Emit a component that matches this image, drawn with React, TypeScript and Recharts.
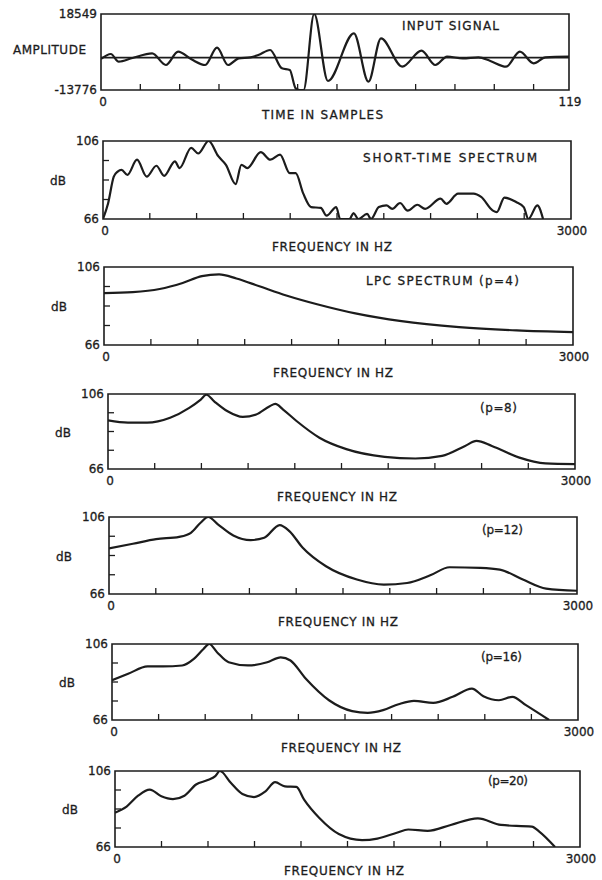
import React from 'react';
import { LineChart, Line, XAxis, YAxis, ReferenceArea, ReferenceLine } from 'recharts';

const FONT = '"DejaVu Sans", Verdana, sans-serif';
const INK = '#1c1c1c';

// input signal: sample index / amplitude at the turning points of the trace
const sigN = [0, 2.5, 4.5, 8, 13, 16.5, 19.6, 23, 26.5, 29.5, 32.3, 35, 38, 40, 43, 46, 48, 49.5, 50.5, 51.5, 54.2, 57.7, 64.3, 68, 71.2, 76.6, 81.5, 85, 88, 92, 96, 99, 103, 106.5, 110, 113, 119];
const sigAmp = [-590, 1530, -1720, -170, 1820, -3140, 2530, -730, -3140, 4230, -3140, -300, 120, 1100, 3240, -4560, -5270, -13070, -13776, -13776, 18549, -9950, 10330, -10230, 8200, -3850, 2950, -3140, 400, -300, 120, -1440, -3850, 2530, -2430, 120, 400];
const timeTicks = [0, 10, 20, 30, 40, 50, 60, 70, 80, 90, 100, 110, 119];
const ampTicks = [-13776, 18549];

const freqTicks = [0, 300, 600, 900, 1200, 1500, 1800, 2100, 2400, 2700, 3000];
const dbTicks = [66, 76, 86, 96, 106];

// short-time spectrum
const stFreq = [0, 32, 69, 94, 119, 156, 218, 280, 342, 392, 461, 491, 565, 610, 677, 739, 788, 850, 887, 925, 1011, 1073, 1135, 1197, 1235, 1284, 1334, 1396, 1433, 1495, 1520, 1580, 1606, 1636, 1693, 1718, 1768, 1817, 1854, 1904, 1953, 2015, 2065, 2164, 2201, 2276, 2375, 2424, 2499, 2524, 2573, 2648, 2697, 2727, 2784, 2821];
const stDb = [66, 73.8, 87.7, 90.3, 91.2, 88.6, 96.4, 87.7, 93.3, 88.1, 95.6, 92.1, 102.5, 99.6, 106, 98.2, 93.8, 83.9, 93.8, 92.1, 100.3, 96.4, 99, 89.5, 89.5, 79, 72.1, 71.7, 67.7, 72.1, 66, 66, 69, 66, 68.6, 66, 72.1, 73, 71.2, 74.2, 70.3, 73.3, 71.2, 76.4, 73.8, 79, 79, 77.3, 70.3, 69.5, 77, 74.7, 72.1, 66, 73, 66];

// LPC spectra
const p4Freq = [0, 184, 356, 503, 626, 736, 847, 994, 1166, 1363, 1608, 1903, 2271, 2639, 3000];
const p4Db = [92.6, 93.1, 94.7, 97.8, 101.3, 102.2, 100.1, 96.1, 91.4, 86.9, 82.2, 78.2, 75.2, 73.5, 72.6];

const p8Freq = [0, 128, 251, 399, 522, 596, 632, 682, 768, 866, 952, 1039, 1075, 1125, 1211, 1358, 1531, 1777, 1974, 2146, 2294, 2367, 2466, 2638, 2810, 3000];
const p8Db = [91.9, 90.7, 90.7, 93.3, 98.6, 103, 105.6, 102.1, 96.8, 93.8, 95.1, 99.5, 100.7, 97.7, 91.6, 82.7, 76.6, 72.5, 71.6, 73, 78.3, 81, 78.3, 72.2, 69, 68.6];

const p12Freq = [0, 153, 302, 450, 525, 587, 636, 698, 797, 908, 995, 1094, 1156, 1242, 1391, 1589, 1762, 1911, 2059, 2183, 2381, 2505, 2653, 2802, 3000];
const p12Db = [89.7, 92.1, 94.5, 95.7, 97.8, 103, 106, 102.2, 96.4, 94, 95.2, 101.8, 98.7, 90, 80.4, 73.5, 70.9, 71.7, 75.7, 79.9, 79.6, 78.7, 73.5, 68.8, 67.7];

const p16Freq = [0, 104, 229, 328, 452, 527, 589, 626, 676, 751, 875, 999, 1086, 1149, 1248, 1397, 1546, 1646, 1745, 1845, 1944, 2068, 2193, 2317, 2391, 2491, 2578, 2665, 2814];
const p16Db = [86.9, 90.3, 94.2, 94.2, 94.7, 98.2, 103.4, 106, 101.7, 96.4, 94.7, 96.4, 99, 97.3, 87.7, 76.4, 70.7, 69.8, 71.2, 74.3, 76.1, 75, 78.2, 82.5, 78.5, 76.4, 78.2, 73.8, 66];

const p20Freq = [0, 75, 149, 224, 299, 374, 448, 523, 598, 647, 677, 747, 822, 897, 971, 1033, 1096, 1170, 1220, 1320, 1444, 1594, 1693, 1818, 1892, 2017, 2166, 2341, 2490, 2689, 2739, 2839];
const p20Db = [84.1, 87.3, 93, 96.2, 92.7, 91.2, 93, 98.9, 101.2, 103.3, 106, 99.8, 93.9, 92.3, 95.3, 100.1, 97.9, 97.6, 90.9, 81.1, 72.8, 69.6, 70.4, 73.5, 75.2, 74.5, 77.6, 81.1, 77.6, 76.7, 74, 66];

type Box = { L: number; R: number; T: number; B: number };

const PAD_T = 12;
const AX_W = 40;
const AX_H = 20;
const PAD_B = 20;

const txt = { fontFamily: FONT, fontSize: 12, fill: INK, stroke: INK, strokeWidth: 0.3 };

interface PanelProps {
  box: Box;
  xs: number[];
  ys: number[];
  xDomain: [number, number];
  xTicks: number[];
  yDomain: [number, number];
  yTicks: number[];
  zeroLine?: boolean;
}

const Panel: React.FC<PanelProps> = ({ box, xs, ys, xDomain, xTicks, yDomain, yTicks, zeroLine }) => {
  const data = xs.map((x, i) => ({ x, y: ys[i] }));
  const h = box.B - box.T;

  const renderX = (p: any) => {
    const v = p.payload.value;
    if (v === xDomain[0] || v === xDomain[1]) {
      return (
        <text x={p.x + (v === xDomain[0] ? 2 : 1)} y={p.y + 16} textAnchor="middle" {...txt}>
          {v}
        </text>
      );
    }
    return <line x1={p.x} y1={p.y} x2={p.x} y2={p.y - 6} stroke={INK} strokeWidth={1.3} />;
  };

  const renderY = (p: any) => {
    const v = p.payload.value;
    if (v === yDomain[0] || v === yDomain[1]) {
      return (
        <text x={p.x - 4} y={p.y + 4} textAnchor="end" {...txt}>
          {v}
        </text>
      );
    }
    return <line x1={p.x} y1={p.y} x2={p.x + 6} y2={p.y} stroke={INK} strokeWidth={1.3} />;
  };

  return (
    <div style={{ position: 'absolute', left: 0, top: box.T - PAD_T }}>
      <LineChart
        width={602}
        height={h + PAD_T + AX_H + PAD_B}
        data={data}
        margin={{ top: PAD_T, right: 602 - box.R, left: box.L - AX_W, bottom: PAD_B }}
      >
        <XAxis
          type="number"
          dataKey="x"
          domain={xDomain}
          ticks={xTicks}
          interval={0}
          tick={renderX}
          tickLine={false}
          axisLine={false}
          tickSize={0}
          tickMargin={0}
          height={AX_H}
          allowDataOverflow
        />
        <YAxis
          type="number"
          domain={yDomain}
          ticks={yTicks}
          interval={0}
          tick={renderY}
          tickLine={false}
          axisLine={false}
          tickSize={0}
          tickMargin={0}
          width={AX_W}
          allowDataOverflow
        />
        <ReferenceArea
          x1={xDomain[0]}
          x2={xDomain[1]}
          y1={yDomain[0]}
          y2={yDomain[1]}
          fill="none"
          fillOpacity={0}
          stroke={INK}
          strokeWidth={1.6}
        />
        {zeroLine && <ReferenceLine y={0} stroke={INK} strokeWidth={1.6} />}
        <Line
          type="monotone"
          dataKey="y"
          stroke={INK}
          strokeWidth={2.2}
          dot={false}
          isAnimationActive={false}
        />
      </LineChart>
    </div>
  );
};

const boxes: Box[] = [
  { L: 101, R: 569, T: 14, B: 90 },
  { L: 103, R: 571, T: 141, B: 219 },
  { L: 104, R: 573, T: 267, B: 345 },
  { L: 108, R: 575, T: 394, B: 469 },
  { L: 109, R: 577, T: 517, B: 594 },
  { L: 112, R: 578, T: 644, B: 720 },
  { L: 115, R: 580, T: 771, B: 847 },
];

const spectra = [
  { xs: stFreq, ys: stDb },
  { xs: p4Freq, ys: p4Db },
  { xs: p8Freq, ys: p8Db },
  { xs: p12Freq, ys: p12Db },
  { xs: p16Freq, ys: p16Db },
  { xs: p20Freq, ys: p20Db },
];

const titles = [
  { s: 'SHORT-TIME SPECTRUM', x: 363, w: 174, y: 158 },
  { s: 'LPC SPECTRUM (p=4)', x: 366, w: 153, y: 281 },
  { s: '(p=8)', x: 480, w: 37, y: 408 },
  { s: '(p=12)', x: 482, w: 41, y: 530 },
  { s: '(p=16)', x: 481, w: 41, y: 657 },
  { s: '(p=20)', x: 488, w: 40, y: 781 },
];

const Label: React.FC<{ s: string; x: number; y: number; w?: number; anchor?: 'start' | 'middle' }> = ({ s, x, y, w, anchor }) => (
  <text
    x={x}
    y={y + 4}
    textAnchor={anchor || 'start'}
    textLength={w}
    lengthAdjust={w ? 'spacing' : undefined}
    {...txt}
  >
    {s}
  </text>
);

export default function App() {
  return (
    <div style={{ position: 'absolute', left: 0, top: 0, width: 602, height: 880, background: '#fff' }}>
      <Panel
        box={boxes[0]}
        xs={sigN}
        ys={sigAmp}
        xDomain={[0, 119]}
        xTicks={timeTicks}
        yDomain={[-13776, 18549]}
        yTicks={ampTicks}
        zeroLine
      />
      {spectra.map((sp, i) => (
        <Panel
          key={i}
          box={boxes[i + 1]}
          xs={sp.xs}
          ys={sp.ys}
          xDomain={[0, 3000]}
          xTicks={freqTicks}
          yDomain={[66, 106]}
          yTicks={dbTicks}
        />
      ))}
      <svg width={602} height={880} style={{ position: 'absolute', left: 0, top: 0, pointerEvents: 'none' }}>
        <Label s="AMPLITUDE" x={13} w={73} y={50} />
        <Label s="INPUT SIGNAL" x={402} w={97} y={26} />
        <Label s="TIME IN SAMPLES" x={262} w={121} y={115} />
        {titles.map((t, i) => (
          <Label key={'t' + i} s={t.s} x={t.x} w={t.w} y={t.y} />
        ))}
        {boxes.slice(1).map((b, i) => (
          <React.Fragment key={'f' + i}>
            <Label s="FREQUENCY IN HZ" x={b.L + 169} w={120} y={Math.min(b.B + 28, 871)} />
            <Label s="dB" x={b.L - 45} y={(b.T + b.B) / 2 + 1} anchor="middle" />
          </React.Fragment>
        ))}
      </svg>
    </div>
  );
}
